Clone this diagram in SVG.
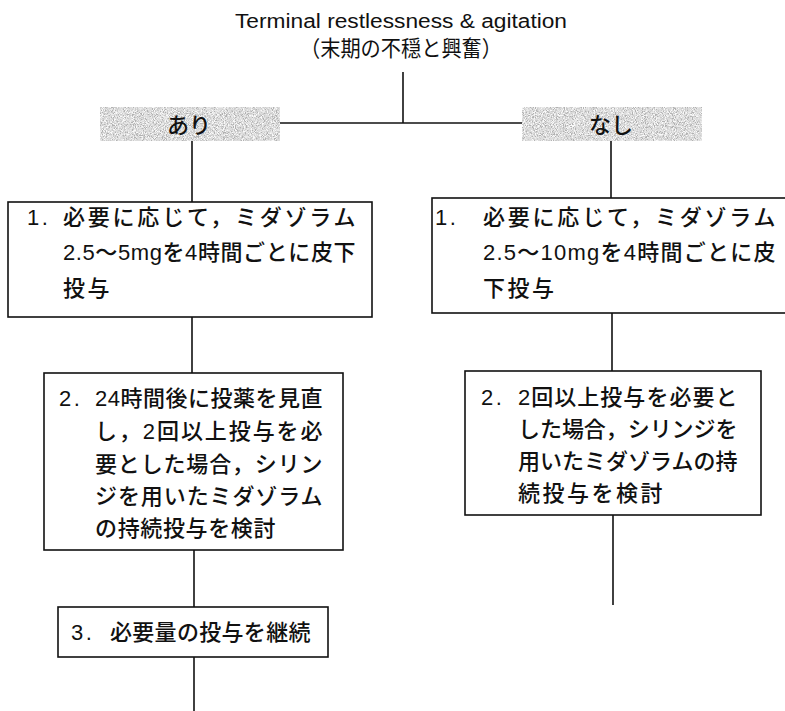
<svg xmlns="http://www.w3.org/2000/svg" width="785" height="711" viewBox="0 0 785 711">
<defs>
<style>
.t{font-family:"Liberation Sans","Noto Sans CJK JP",sans-serif;font-size:22px;font-weight:500;fill:#111;letter-spacing:2.5px;}
.ttl{font-family:"Liberation Sans","Noto Sans CJK JP",sans-serif;font-size:20px;fill:#111;}
.box{fill:#fff;stroke:#111;stroke-width:1.6;}
.ln{stroke:#111;stroke-width:1.6;fill:none;}
</style>
<filter id="speckle" filterUnits="objectBoundingBox" x="0" y="0" width="1" height="1">
<feTurbulence type="fractalNoise" baseFrequency="1.1" numOctaves="2" seed="5" result="n"/>
<feColorMatrix in="n" type="matrix" values="1.2 1.2 1.2 0 -1.3  1.2 1.2 1.2 0 -1.3  1.2 1.2 1.2 0 -1.3  0 0 0 0 1" result="g"/>
<feComponentTransfer in="g" result="d">
<feFuncR type="discrete" tableValues="0.45 0.6 0.72 0.82 0.95"/>
<feFuncG type="discrete" tableValues="0.45 0.6 0.72 0.82 0.95"/>
<feFuncB type="discrete" tableValues="0.45 0.6 0.72 0.82 0.95"/>
</feComponentTransfer>
<feComposite in="d" in2="SourceGraphic" operator="in"/>
</filter>
</defs>
<rect width="785" height="711" fill="#fff"/>
<g id="connectors">
<line class="ln" x1="403" y1="72" x2="403" y2="123"/>
<line class="ln" x1="280" y1="123" x2="522" y2="123"/>
<line class="ln" x1="192" y1="141" x2="192" y2="202"/>
<line class="ln" x1="192" y1="317" x2="192" y2="373"/>
<line class="ln" x1="194" y1="550" x2="194" y2="607"/>
<line class="ln" x1="194" y1="657" x2="194" y2="711"/>
<line class="ln" x1="611" y1="141" x2="611" y2="198"/>
<line class="ln" x1="612" y1="313" x2="612" y2="371"/>
<line class="ln" x1="613" y1="515" x2="613" y2="605"/>
</g>
<g id="title">
<text class="ttl" x="235" y="28" textLength="332" lengthAdjust="spacingAndGlyphs">Terminal restlessness &amp; agitation</text>
<text class="ttl" x="300" y="56" style="font-size:22px" textLength="202" lengthAdjust="spacingAndGlyphs">（末期の不穏と興奮）</text>
</g>
<g id="ari">
<rect x="100" y="107" width="180" height="34" fill="#fff" filter="url(#speckle)"/>
<text class="t" x="167" y="133" style="letter-spacing:0">あり</text>
</g>
<g id="nashi">
<rect x="522" y="107" width="180" height="34" fill="#fff" filter="url(#speckle)"/>
<text class="t" x="589" y="133" style="letter-spacing:0">なし</text>
</g>
<g id="left1">
<rect class="box" x="8" y="202" width="364" height="115"/>
<text class="t" x="27" y="225">1.</text>
<text class="t" x="63" y="225" textLength="295" lengthAdjust="spacing">必要に応じて，ミダゾラム</text>
<text class="t" x="63" y="260" textLength="295" lengthAdjust="spacing">2.5〜5mgを4時間ごとに皮下</text>
<text class="t" x="63" y="296">投与</text>
</g>
<g id="right1">
<rect class="box" x="432" y="198" width="360" height="115"/>
<text class="t" x="435" y="225">1.</text>
<text class="t" x="483" y="225" textLength="295" lengthAdjust="spacing">必要に応じて，ミダゾラム</text>
<text class="t" x="483" y="260" textLength="295" lengthAdjust="spacing">2.5〜10mgを4時間ごとに皮</text>
<text class="t" x="483" y="296">下投与</text>
</g>
<g id="left2">
<rect class="box" x="44" y="373" width="299" height="177"/>
<text class="t" x="59" y="406">2.</text>
<text class="t" x="95" y="406" textLength="230" lengthAdjust="spacing">24時間後に投薬を見直</text>
<text class="t" x="95" y="439" textLength="230" lengthAdjust="spacing">し，2回以上投与を必</text>
<text class="t" x="95" y="472" textLength="230" lengthAdjust="spacing">要とした場合，シリン</text>
<text class="t" x="95" y="504" textLength="230" lengthAdjust="spacing">ジを用いたミダゾラム</text>
<text class="t" x="95" y="536" textLength="183" lengthAdjust="spacing">の持続投与を検討</text>
</g>
<g id="right2">
<rect class="box" x="465" y="371" width="296" height="144"/>
<text class="t" x="481" y="405">2.</text>
<text class="t" x="518" y="405" textLength="222" lengthAdjust="spacing">2回以上投与を必要と</text>
<text class="t" x="518" y="437" textLength="222" lengthAdjust="spacing">した場合，シリンジを</text>
<text class="t" x="518" y="469" textLength="222" lengthAdjust="spacing">用いたミダゾラムの持</text>
<text class="t" x="518" y="501">続投与を検討</text>
</g>
<g id="left3">
<rect class="box" x="58" y="607" width="270" height="50"/>
<text class="t" x="71" y="640">3.</text>
<text class="t" x="110" y="640" textLength="203" lengthAdjust="spacing">必要量の投与を継続</text>
</g>
</svg>
